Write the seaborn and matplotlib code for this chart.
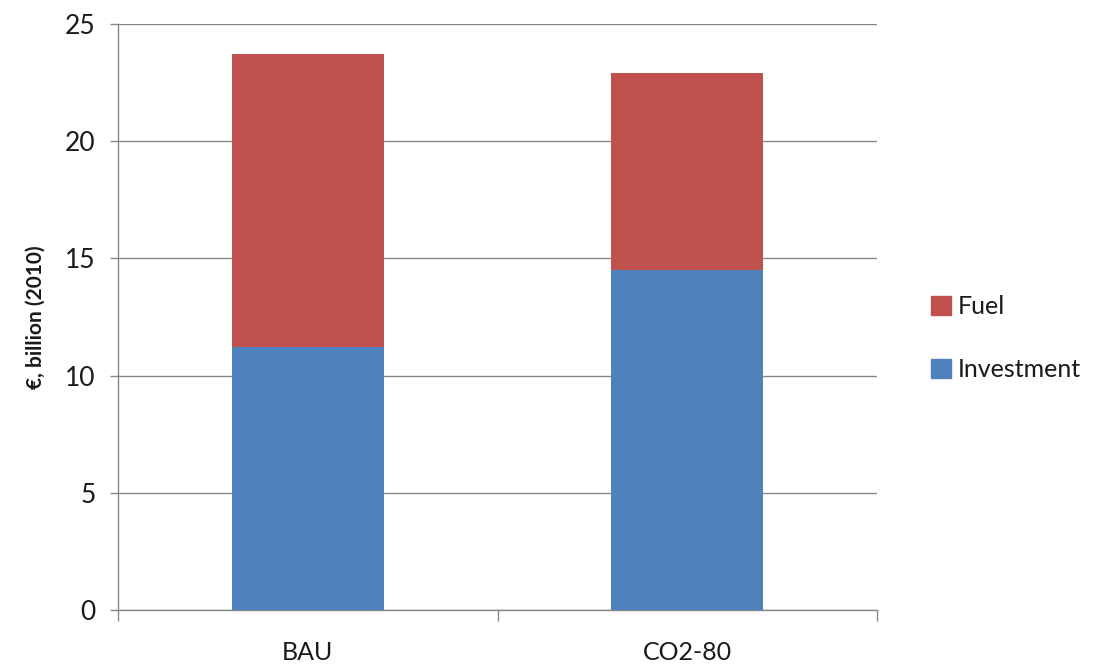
import seaborn as sns
import matplotlib.pyplot as plt
import pandas as pd
from matplotlib.patches import Patch
from matplotlib.ticker import FixedLocator

# values (EUR billion, 2010)
scenarios = ["BAU", "CO2-80"]
investment = [11.2, 14.5]
fuel = [12.5, 8.4]

df = pd.DataFrame({"Scenario": scenarios, "Investment": investment, "Fuel": fuel})
df["Total"] = df["Investment"] + df["Fuel"]

sns.set_style("white")
plt.rcParams["font.family"] = ["Lato", "DejaVu Sans"]

inv_color = "#4F81BD"
fuel_color = "#C0504D"
axis_gray = "#888888"
text_color = "#1a1a1a"

fig = plt.figure(figsize=(11.09, 6.65), dpi=100)
ax = fig.add_axes([118 / 1109, 1 - 610 / 665, (877 - 118) / 1109, (610 - 24) / 665])

# stacked bars: total (fuel on top) then investment over it
sns.barplot(data=df, x="Scenario", y="Total", color=fuel_color, width=0.4,
            saturation=1, linewidth=0, ax=ax, zorder=2)
sns.barplot(data=df, x="Scenario", y="Investment", color=inv_color, width=0.4,
            saturation=1, linewidth=0, ax=ax, zorder=3)

ax.set_xlim(-0.5, 1.5)
ax.set_ylim(0, 25)
ax.set_yticks([0, 5, 10, 15, 20, 25])
ax.yaxis.grid(True, color=axis_gray, linewidth=1)
ax.set_axisbelow(True)

for s in ["top", "right"]:
    ax.spines[s].set_visible(False)
for s in ["left", "bottom"]:
    ax.spines[s].set_color(axis_gray)
    ax.spines[s].set_linewidth(1)

# category separators on the x axis, outward ticks on y
ax.xaxis.set_minor_locator(FixedLocator([-0.5, 0.5, 1.5]))
ax.tick_params(bottom=True, left=True)
ax.tick_params(axis="x", which="minor", bottom=True, length=8, width=1,
               color=axis_gray, direction="out")
ax.tick_params(axis="x", which="major", length=0, labelsize=18, pad=22,
               labelcolor=text_color)
ax.tick_params(axis="y", which="major", length=6, width=1, color=axis_gray,
               direction="out", labelsize=19, pad=10, labelcolor=text_color)

ax.set_xlabel("")
ax.set_ylabel("€, billion (2010)", fontsize=15, fontweight="bold", labelpad=14,
              color=text_color)

handles = [Patch(color=fuel_color, label="Fuel"), Patch(color=inv_color, label="Investment")]
fig.legend(handles=handles, loc="center left", bbox_to_anchor=(908 / 1109, 1 - 338 / 665),
           frameon=False, fontsize=18, handlelength=0.8, handleheight=0.8,
           handletextpad=0.3, labelspacing=1.6, labelcolor=text_color)

plt.savefig("out.png", dpi=100)
